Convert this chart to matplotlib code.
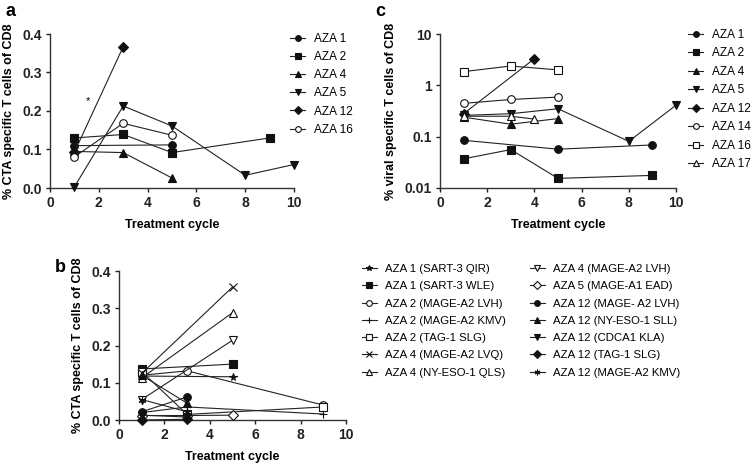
import numpy as np
import matplotlib
matplotlib.use('Agg')
import matplotlib.pyplot as plt
from matplotlib.ticker import FixedLocator, FixedFormatter

plt.rcParams['font.family'] = ['Liberation Sans', 'DejaVu Sans']

# ---- panel a: CTA specific T cells ----
a_names = ['AZA 1', 'AZA 2', 'AZA 4', 'AZA 5', 'AZA 12', 'AZA 16']
a_x = [[1, 5], [1, 3, 5, 9], [1, 3, 5], [1, 3, 5, 8, 10], [1, 3], [1, 3, 5]]
a_y = [[0.110, 0.112],
       [0.130, 0.139, 0.092, 0.130],
       [0.095, 0.092, 0.026],
       [0.003, 0.213, 0.161, 0.033, 0.061],
       [0.093, 0.367],
       [0.081, 0.168, 0.137]]
a_mark = ['o', 's', '^', 'v', 'D', 'o']
a_fill = [True, True, True, True, True, False]

# ---- panel b: CTA specific T cells per epitope ----
b_names = ['AZA 1 (SART-3 QIR)', 'AZA 1 (SART-3 WLE)', 'AZA 2 (MAGE-A2 LVH)',
           'AZA 2 (MAGE-A2 KMV)', 'AZA 2 (TAG-1 SLG)', 'AZA 4 (MAGE-A2 LVQ)',
           'AZA 4 (NY-ESO-1 QLS)', 'AZA 4 (MAGE-A2 LVH)', 'AZA 5 (MAGE-A1 EAD)',
           'AZA 12 (MAGE- A2 LVH)', 'AZA 12 (NY-ESO-1 SLL)', 'AZA 12 (CDCA1 KLA)',
           'AZA 12 (TAG-1 SLG)', 'AZA 12 (MAGE-A2 KMV)']
b_x = [[1, 5], [1, 5], [1, 3, 9], [1, 3, 9], [1, 3, 9], [1, 5], [1, 5], [1, 5],
       [1, 3, 5], [1, 3], [1, 3], [1, 3], [1, 3], [1, 3]]
b_y = [[0.118, 0.116],
       [0.137, 0.150],
       [0.120, 0.132, 0.040],
       [0.020, 0.035, 0.016],
       [0.130, 0.015, 0.035],
       [0.125, 0.357],
       [0.113, 0.288],
       [0.055, 0.214],
       [0.012, 0.012, 0.013],
       [0.022, 0.062],
       [0.120, 0.045],
       [0.013, 0.008],
       [0.000, 0.002],
       [0.055, 0.022]]
b_mark = ['*', 's', 'o', '+', 's', 'x', '^', 'v', 'D', 'o', '^', 'v', 'D', (6, 2, 0)]
b_fill = [True, True, False, True, False, True, False, False, False,
          True, True, True, True, True]

# ---- panel c: viral specific T cells ----
c_names = ['AZA 1', 'AZA 2', 'AZA 4', 'AZA 5', 'AZA 12', 'AZA 14', 'AZA 16', 'AZA 17']
c_x = [[1, 5, 9], [1, 3, 5, 9], [1, 3, 5], [1, 3, 5, 8, 10], [1, 4],
       [1, 3, 5], [1, 3, 5], [1, 3, 4]]
c_y = [[0.085, 0.057, 0.069],
       [0.037, 0.056, 0.0154, 0.0176],
       [0.24, 0.175, 0.225],
       [0.26, 0.28, 0.35, 0.081, 0.41],
       [0.28, 3.3],
       [0.445, 0.53, 0.59],
       [1.85, 2.38, 2.0],
       [0.25, 0.25, 0.22]]
c_mark = ['o', 's', '^', 'v', 'D', 'o', 's', '^']
c_fill = [True, True, True, True, True, False, False, False]

W, H = 753, 465
fig = plt.figure(figsize=(W / 100, H / 100), dpi=100)


def px_axes(x0, x1, ytop, ybot):
    return fig.add_axes([x0 / W, 1 - ybot / H, (x1 - x0) / W, (ybot - ytop) / H])


def style(ax, ylabel):
    for s in ['top', 'right']:
        ax.spines[s].set_visible(False)
    for s in ['left', 'bottom']:
        ax.spines[s].set_linewidth(1.0)
        ax.spines[s].set_color('#333333')
    ax.tick_params(direction='out', length=3, width=1.0, pad=3, labelsize=10,
                   colors='#222222')
    for lab in ax.get_xticklabels() + ax.get_yticklabels():
        lab.set_fontweight('bold')
    ax.set_xlim(0, 10)
    ax.set_xticks([0, 2, 4, 6, 8, 10])
    ax.set_xlabel('Treatment cycle', fontsize=9, fontweight='bold', labelpad=6)
    ax.set_ylabel(ylabel, fontsize=9, fontweight='bold', labelpad=5)


def draw(ax, xs, ys, marks, fills, names, ms=5.5):
    handles = []
    for x, y, m, f, n in zip(xs, ys, marks, fills, names):
        h, = ax.plot(x, y, color='#222222', lw=0.8, marker=m, ms=ms,
                     mfc='#111111' if f else 'white', mec='#111111', mew=0.8,
                     label=n, clip_on=False, zorder=3)
        handles.append(h)
    return handles


# panel a
ax_a = px_axes(50, 294, 34, 188)
ha = draw(ax_a, a_x, a_y, a_mark, a_fill, a_names)
ax_a.set_ylim(0, 0.4)
ax_a.set_yticks([0.0, 0.1, 0.2, 0.3, 0.4])
ax_a.set_yticklabels(['0.0', '0.1', '0.2', '0.3', '0.4'])
style(ax_a, '% CTA specific T cells of CD8')
ax_a.text(1.55, 0.225, '*', fontsize=8, ha='center', va='center')

# panel c
ax_c = px_axes(440, 676, 34, 188)
hc = draw(ax_c, c_x, c_y, c_mark, c_fill, c_names)
ax_c.set_yscale('log')
ax_c.set_ylim(0.01, 10)
ax_c.yaxis.set_major_locator(FixedLocator([0.01, 0.1, 1, 10]))
ax_c.yaxis.set_major_formatter(FixedFormatter(['0.01', '0.1', '1', '10']))
ax_c.yaxis.set_minor_locator(FixedLocator([]))
style(ax_c, '% viral specific T cells of CD8')

# panel b
ax_b = px_axes(119, 346, 271, 420)
hb = draw(ax_b, b_x, b_y, b_mark, b_fill, b_names)
ax_b.set_ylim(0, 0.4)
ax_b.set_yticks([0.0, 0.1, 0.2, 0.3, 0.4])
ax_b.set_yticklabels(['0.0', '0.1', '0.2', '0.3', '0.4'])
style(ax_b, '% CTA specific T cells of CD8')

leg_kw = dict(frameon=False, handlelength=1.3, handletextpad=0.7, borderpad=0,
              borderaxespad=0, markerscale=0.75, loc='upper left')
fig.legend(handles=ha, fontsize=8.5, labelspacing=0.52,
           bbox_to_anchor=(290 / W, 1 - 33 / H), **leg_kw)
fig.legend(handles=hc, fontsize=8.5, labelspacing=0.55,
           bbox_to_anchor=(688 / W, 1 - 29 / H), **leg_kw)
fig.legend(handles=hb[:7], fontsize=8.2, labelspacing=0.64,
           bbox_to_anchor=(362 / W, 1 - 264 / H), **leg_kw)
fig.legend(handles=hb[7:], fontsize=8.2, labelspacing=0.64,
           bbox_to_anchor=(530 / W, 1 - 264 / H), **leg_kw)

# panel letters
fig.text(5 / W, 1 - 12 / H, 'a', fontsize=13, fontweight='bold', va='center')
fig.text(375 / W, 1 - 12 / H, 'c', fontsize=13, fontweight='bold', va='center')
fig.text(55 / W, 1 - 268 / H, 'b', fontsize=13, fontweight='bold', va='center')

fig.savefig('out.png', dpi=100)
